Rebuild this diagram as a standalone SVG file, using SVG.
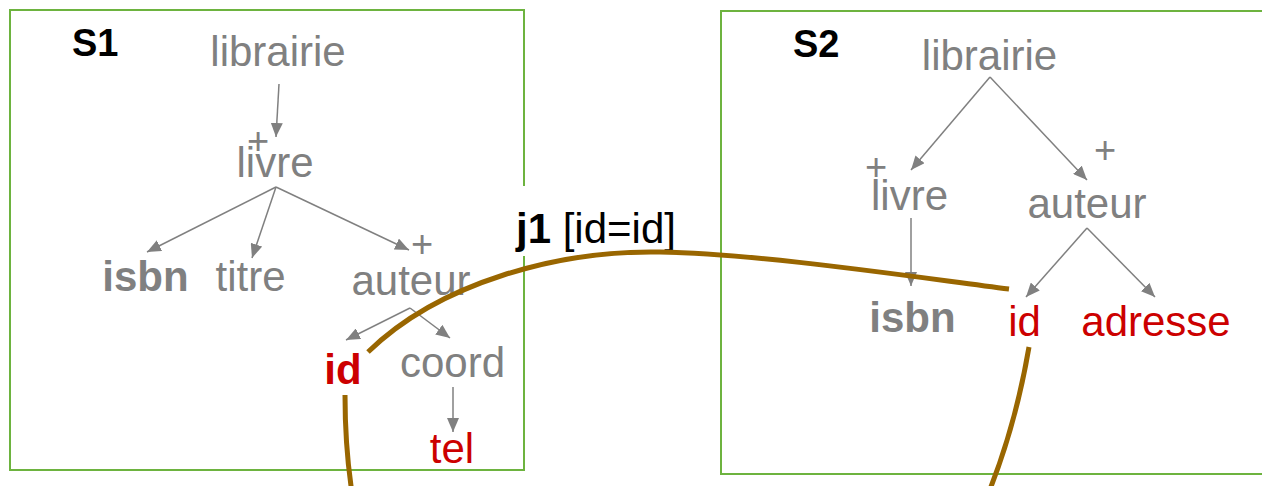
<svg xmlns="http://www.w3.org/2000/svg" width="1262" height="486" viewBox="0 0 1262 486">
<style>
text{font-family:"Liberation Sans",Arial,sans-serif;font-size:42px}
.g{fill:#808080}
.r{fill:#cc0000}
.b{font-weight:bold}
.m{text-anchor:middle}
.h{font-weight:bold;fill:#000;font-size:38px}
.p{font-size:38px;fill:#808080;text-anchor:middle}
.box{fill:none;stroke:#6db33f;stroke-width:2}
.e{stroke:#808080;stroke-width:1.5;fill:none;marker-end:url(#ah)}
.j{stroke:#996600;stroke-width:5;fill:none}
</style>
<defs>
<marker id="ah" markerUnits="userSpaceOnUse" markerWidth="14" markerHeight="12" viewBox="0 0 14 12" refX="14" refY="6" orient="auto">
<path d="M0,0 L14,6 L0,12 z" fill="#808080"/>
</marker>
</defs>
<g id="S1">
<rect class="box" x="10" y="10" width="514" height="460"/>
<text class="h" x="72" y="56">S1</text>
</g>
<g id="S2">
<rect class="box" x="721" y="11" width="600" height="463"/>
<text class="h" x="793" y="57">S2</text>
</g>
<g id="s1-librairie"><text class="g m" x="278" y="66">librairie</text></g>
<g id="s1-livre"><text class="p" x="258" y="154">+</text><text class="g m" x="275" y="177">livre</text></g>
<g id="s1-isbn"><text class="g m b" x="145.5" y="291">isbn</text></g>
<g id="s1-titre"><text class="g m" x="250.5" y="291">titre</text></g>
<g id="s1-auteur"><text class="p" x="422" y="257">+</text><text class="g m" x="411" y="295">auteur</text></g>
<g id="s1-id"><text class="r m b" x="343" y="384">id</text></g>
<g id="s1-coord"><text class="g m" x="452.5" y="377">coord</text></g>
<g id="s1-tel"><text class="r m" x="452" y="463">tel</text></g>
<g id="s2-librairie"><text class="g m" x="989.5" y="70">librairie</text></g>
<g id="s2-livre"><text class="p" x="876" y="180">+</text><text class="g m" x="909.5" y="210">livre</text></g>
<g id="s2-auteur"><text class="p" x="1105" y="163">+</text><text class="g m" x="1087" y="218">auteur</text></g>
<g id="s2-isbn"><text class="g m b" x="912.5" y="332">isbn</text></g>
<g id="s2-id"><text class="r m" x="1024.5" y="336">id</text></g>
<g id="s2-adresse"><text class="r m" x="1156" y="336">adresse</text></g>
<g id="j1-label">
<rect x="506" y="186" width="190" height="70" fill="#fff"/>
<text x="516" y="243" style="fill:#000"><tspan font-weight="bold">j1</tspan> [id=id]</text>
</g>
<g id="connectors">
<line class="e" x1="279" y1="84" x2="276" y2="137"/>
<line class="e" x1="276" y1="187" x2="147" y2="252"/>
<line class="e" x1="276" y1="187" x2="252" y2="258"/>
<line class="e" x1="276" y1="187" x2="409" y2="250"/>
<line class="e" x1="410" y1="308" x2="346" y2="340"/>
<line class="e" x1="410" y1="308" x2="450" y2="338"/>
<line class="e" x1="453" y1="387" x2="453" y2="432"/>
<line class="e" x1="990" y1="77" x2="911" y2="170"/>
<line class="e" x1="990" y1="77" x2="1087" y2="180"/>
<line class="e" x1="911" y1="218" x2="911" y2="286"/>
<line class="e" x1="1087" y1="228" x2="1026" y2="297"/>
<line class="e" x1="1087" y1="228" x2="1155" y2="297"/>
<path class="j" d="M368,352 C440,282 560,250 660,252 C760,254 900,275 1009,289"/>
<path class="j" d="M345,395 C345,940 935,897 1029,347"/>
</g>
</svg>
